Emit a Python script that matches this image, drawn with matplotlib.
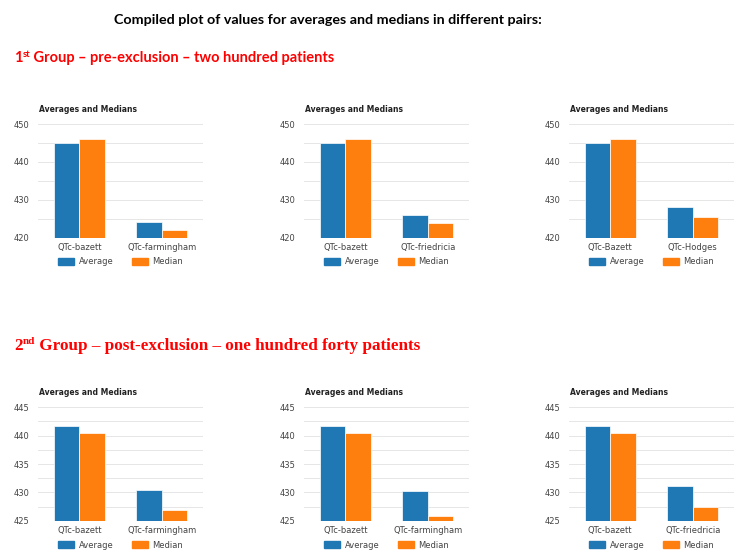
import numpy as np
import matplotlib
matplotlib.use("Agg")
import matplotlib.pyplot as plt
from matplotlib.patches import Patch

W, H = 750, 554

# data
series = ["Average", "Median"]
colores = ["#1f77b4", "#ff7f0e"]

pares_1 = [["QTc-bazett", "QTc-farmingham"],
           ["QTc-bazett", "QTc-friedricia"],
           ["QTc-Bazett", "QTc-Hodges"]]
promedio_1 = [[445.1, 424.1], [445.1, 426.0], [445.1, 428.0]]
mediana_1 = [[446.0, 421.9], [446.0, 423.8], [446.0, 425.4]]

pares_2 = [["QTc-bazett", "QTc-farmingham"],
           ["QTc-bazett", "QTc-farmingham"],
           ["QTc-bazett", "QTc-friedricia"]]
promedio_2 = [[441.7, 430.5], [441.7, 430.3], [441.7, 431.2]]
mediana_2 = [[440.4, 426.9], [440.4, 425.9], [440.4, 427.4]]

lims_1 = (420, 450)
ticks_1 = [420, 430, 440, 450]
grid_1 = 5
lims_2 = (425, 445)
ticks_2 = [425, 430, 435, 440, 445]
grid_2 = 2.5


def px(x, y):
    return x / W, 1 - y / H


def escribir_partes(fig, x, y, partes, **kw):
    # draws pieces of text one after the other (for superscripts)
    fig.canvas.draw()
    r = fig.canvas.get_renderer()
    for texto, tam, dy in partes:
        t = fig.text(*px(x, y - dy), texto, fontsize=tam, va="baseline", ha="left", **kw)
        bb = t.get_window_extent(renderer=r)
        x += bb.width


def grafico(fig, izq, arriba, etiquetas, prom, med, lims, ticks, paso):
    abajo = arriba + 113.5
    ax = fig.add_axes([izq / W, 1 - abajo / H, 165 / W, 113.5 / H])
    x = np.arange(len(etiquetas))
    ancho = 0.305
    ax.bar(x - 0.155, prom, ancho, color=colores[0], edgecolor="white", linewidth=0.5,
           zorder=3)
    ax.bar(x + 0.155, med, ancho, color=colores[1], edgecolor="white", linewidth=0.5,
           zorder=3)
    ax.set_ylim(*lims)
    ax.set_xlim(-0.5, 1.5)
    for v in np.arange(lims[0], lims[1] + 0.01, paso):
        ax.axhline(v, color="#c8c8c8" if v == lims[0] else "#e6e6e6", lw=0.7,
                   zorder=4 if v == lims[0] else 1)
    ax.set_yticks(ticks)
    ax.set_xticks(x)
    ax.set_xticklabels(etiquetas)
    ax.tick_params(length=0, labelsize=6, colors="#444444")
    ax.tick_params(axis="y", pad=6)
    ax.tick_params(axis="x", pad=4)
    for s in ax.spines.values():
        s.set_visible(False)
    fig.text(*px(izq + 1, arriba - 15), "Averages and Medians", fontsize=5.5,
             fontweight="bold", color="#222222", va="center", ha="left")
    manijas = [Patch(color=c) for c in colores]
    ax.legend(manijas, series, loc="center", bbox_to_anchor=(0.5, -0.215), ncol=2,
              frameon=False, fontsize=6, handlelength=2.0, handleheight=0.9,
              handletextpad=0.5, columnspacing=2.2, labelcolor="#444444")
    return ax


fig = plt.figure(figsize=(W / 100, H / 100), dpi=100)

fig.text(*px(328, 20), "Compiled plot of values for averages and medians in different pairs:",
         fontsize=10.3, fontweight="bold", ha="center", va="center", family="Lato",
         color="black")

escribir_partes(fig, 14, 62, [("1", 10.5, 0), ("st", 6.8, 5),
                              (" Group \u2013 pre-exclusion \u2013 two hundred patients", 10.5, 0)],
                color="#ff0000", fontweight="bold", family="Lato")
escribir_partes(fig, 14, 350, [("2", 12.3, 0), ("nd", 8, 5.5),
                               (" Group \u2013 post-exclusion \u2013 one hundred forty patients", 12.3, 0)],
                color="#ff0000", fontweight="bold", family="Liberation Serif")

izqs = [38, 304, 569]
for i in range(3):
    grafico(fig, izqs[i], 124, pares_1[i], promedio_1[i], mediana_1[i], lims_1, ticks_1, grid_1)
    grafico(fig, izqs[i], 407.3, pares_2[i], promedio_2[i], mediana_2[i], lims_2, ticks_2, grid_2)

fig.savefig("out.png", dpi=100)
